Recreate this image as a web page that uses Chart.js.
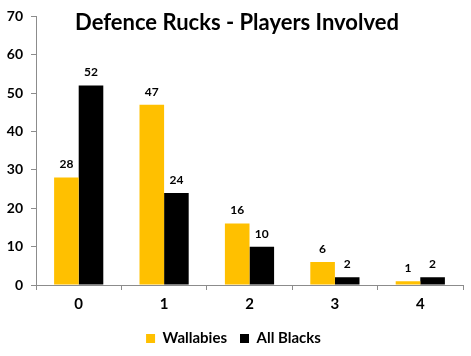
<!DOCTYPE html>
<html><head><meta charset="utf-8">
<script src="https://cdn.jsdelivr.net/npm/chart.js@4"></script>
<style>html,body{margin:0;padding:0;background:#fff}#wrap{width:471px;height:356px;position:relative}</style>
</head><body><div id="wrap"><canvas id="c" width="471" height="356"></canvas></div>
<script>
const categories = ['0','1','2','3','4'];
const wallabies = [28, 47, 16, 6, 1];
const allBlacks = [52, 24, 10, 2, 2];
const seriesNames = ['Wallabies', 'All Blacks'];
const titleText = 'Defence Rucks - Players Involved';
const yTicks = {min: 0, max: 70, step: 10};

const FONT = 'Lato, "Open Sans", sans-serif';

const valueLabels = {
  id: 'valueLabels',
  afterDatasetsDraw(chart) {
    const ctx = chart.ctx;
    ctx.save();
    ctx.font = 'bold 12px ' + FONT;
    ctx.fillStyle = '#000';
    ctx.textAlign = 'center';
    ctx.textBaseline = 'bottom';
    chart.data.datasets.forEach((ds, i) => {
      chart.getDatasetMeta(i).data.forEach((bar, j) => {
        ctx.fillText(String(ds.data[j]), bar.x, bar.y - 7);
      });
    });
    ctx.restore();
  }
};

const overlayTitle = {
  id: 'overlayTitle',
  afterDraw(chart) {
    const ctx = chart.ctx;
    ctx.save();
    ctx.font = 'bold 22px ' + FONT;
    ctx.fillStyle = '#000';
    ctx.textAlign = 'center';
    ctx.textBaseline = 'middle';
    ctx.fillText(titleText, 237, 23);
    ctx.restore();
  }
};

new Chart(document.getElementById('c'), {
  type: 'bar',
  data: {
    labels: categories,
    datasets: [
      {label: seriesNames[0], data: wallabies, backgroundColor: '#FFC000'},
      {label: seriesNames[1], data: allBlacks, backgroundColor: '#000000'}
    ]
  },
  options: {
    responsive: false,
    animation: false,
    devicePixelRatio: 1,
    layout: {padding: {top: 3, right: 8, left: 4, bottom: 0}},
    datasets: {bar: {categoryPercentage: 0.576, barPercentage: 1.0}},
    scales: {
      x: {
        grid: {display: true, drawOnChartArea: false, drawTicks: true, tickLength: 5, color: '#8c8c8c'},
        border: {display: true, color: '#8c8c8c', width: 1},
        ticks: {font: {family: FONT, size: 15, weight: 'bold'}, color: '#000', padding: 5}
      },
      y: {
        min: yTicks.min, max: yTicks.max,
        grid: {display: true, drawOnChartArea: false, drawTicks: true, tickLength: 5, color: '#8c8c8c'},
        border: {display: true, color: '#8c8c8c', width: 1},
        ticks: {stepSize: yTicks.step, font: {family: FONT, size: 14, weight: 'bold'}, color: '#000', padding: 8},
        afterFit(s) { s.width = 32; }
      }
    },
    plugins: {
      legend: {
        position: 'bottom',
        labels: {boxWidth: 9, boxHeight: 9, font: {family: FONT, size: 15, weight: 'bold'}, color: '#000', padding: 13}
      },
      title: {display: false},
      tooltip: {enabled: false}
    }
  },
  plugins: [valueLabels, overlayTitle]
});
</script></body></html>
